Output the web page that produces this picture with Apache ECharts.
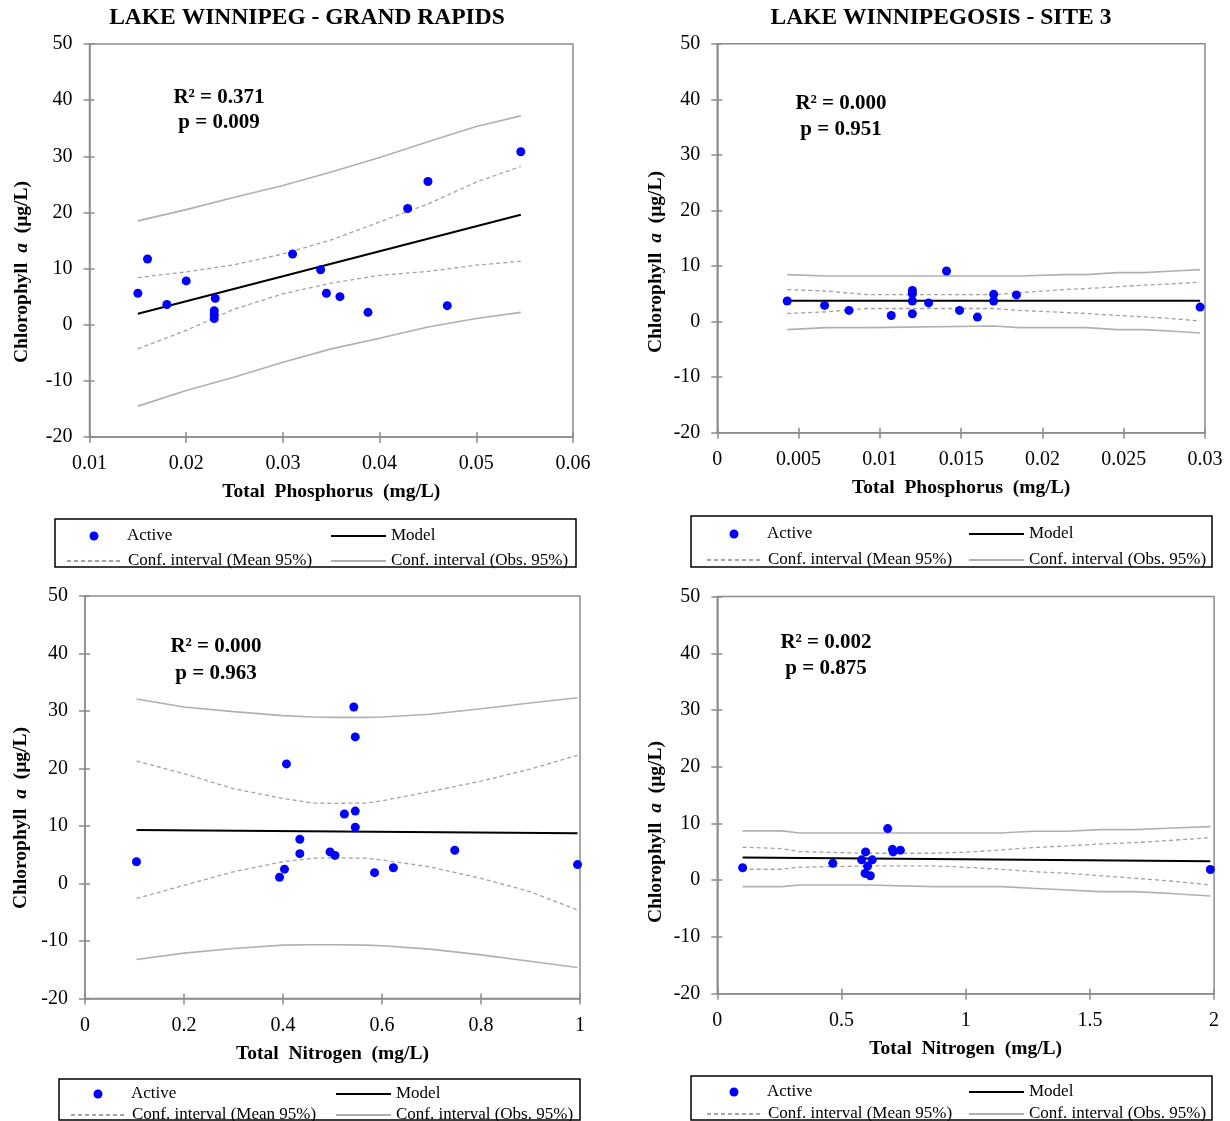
<!DOCTYPE html>
<html>
<head>
<meta charset="utf-8">
<title>Chlorophyll a vs nutrients</title>
<script src="https://cdn.jsdelivr.net/npm/echarts@6/dist/echarts.min.js"></script>
<style>
  html, body { margin: 0; padding: 0; background: #fff; }
  #chart { width: 1230px; height: 1121px; }
</style>
</head>
<body>
<div id="chart"></div>
<script>
// ---------- Lake Winnipeg - Grand Rapids : Chl a vs total phosphorus ----------
const grTpX   = [0.0150, 0.0160, 0.0180, 0.0200, 0.0230, 0.0229, 0.0229, 0.0229, 0.0310, 0.0339, 0.0345, 0.0359, 0.0388, 0.0429, 0.0450, 0.0470, 0.0546];
const grTpChl = [5.6, 11.7, 3.6, 7.8, 4.7, 2.5, 1.8, 1.1, 12.6, 9.8, 5.6, 5.0, 2.2, 20.7, 25.5, 3.4, 30.8];
const grTpModelX = [0.0150, 0.0546];
const grTpModelY = [1.95, 19.6];
const grTpBandX  = [0.015, 0.020, 0.025, 0.030, 0.035, 0.040, 0.045, 0.050, 0.0546];
const grTpMeanUp = [8.4, 9.4, 10.7, 12.6, 15.1, 18.3, 21.5, 25.4, 28.2];
const grTpMeanLo = [-4.3, -1.0, 2.8, 5.5, 7.4, 8.8, 9.5, 10.6, 11.3];
const grTpObsUp  = [18.5, 20.5, 22.7, 24.8, 27.2, 29.8, 32.6, 35.3, 37.2];
const grTpObsLo  = [-14.5, -11.7, -9.3, -6.7, -4.3, -2.4, -0.4, 1.1, 2.2];

// ---------- Lake Winnipegosis - Site 3 : Chl a vs total phosphorus ----------
const wsTpX   = [0.0043, 0.0066, 0.0081, 0.0107, 0.0120, 0.0120, 0.0120, 0.0120, 0.0130, 0.0141, 0.0149, 0.0160, 0.0170, 0.0170, 0.0184, 0.0297];
const wsTpChl = [3.7, 2.9, 2.0, 1.1, 5.6, 5.0, 3.7, 1.4, 3.35, 9.1, 2.0, 0.8, 4.9, 3.7, 4.8, 2.6];
const wsTpModelX = [0.0043, 0.0297];
const wsTpModelY = [3.75, 3.75];
const wsTpBandX  = [0.0043, 0.0067, 0.0092, 0.0170, 0.0186, 0.0213, 0.0227, 0.0246, 0.0262, 0.0281, 0.0297];
const wsTpMeanUp = [5.75, 5.5, 4.85, 4.85, 5.2, 5.75, 5.95, 6.25, 6.55, 6.8, 7.1];
const wsTpMeanLo = [1.45, 1.75, 2.35, 2.35, 2.0, 1.65, 1.45, 1.1, 0.85, 0.5, 0.1];
const wsTpObsUp  = [8.45, 8.2, 8.2, 8.2, 8.2, 8.45, 8.45, 8.8, 8.8, 9.1, 9.35];
const wsTpObsLo  = [-1.45, -1.1, -1.1, -0.8, -1.1, -1.1, -1.1, -1.45, -1.45, -1.75, -2.05];

// ---------- Lake Winnipeg - Grand Rapids : Chl a vs total nitrogen ----------
const grTnX   = [0.104, 0.393, 0.403, 0.407, 0.434, 0.434, 0.495, 0.505, 0.524, 0.543, 0.546, 0.546, 0.546, 0.585, 0.623, 0.747, 0.995];
const grTnChl = [3.8, 1.1, 2.5, 20.8, 7.7, 5.2, 5.5, 4.9, 12.1, 30.7, 25.5, 12.6, 9.8, 1.9, 2.75, 5.8, 3.3];
const grTnModelX = [0.104, 0.995];
const grTnModelY = [9.3, 8.75];
const grTnBandX  = [0.104, 0.200, 0.300, 0.400, 0.461, 0.502, 0.569, 0.600, 0.697, 0.800, 0.899, 0.995];
const grTnMeanUp = [21.3, 19.1, 16.5, 14.8, 14.0, 13.95, 14.0, 14.4, 16.0, 17.8, 19.9, 22.3];
const grTnMeanLo = [-2.6, -0.3, 2.05, 3.8, 4.4, 4.5, 4.4, 4.1, 2.9, 0.9, -1.4, -4.6];
const grTnObsUp  = [32.1, 30.7, 29.9, 29.2, 28.95, 28.9, 28.9, 28.95, 29.45, 30.4, 31.4, 32.3];
const grTnObsLo  = [-13.2, -12.1, -11.3, -10.7, -10.65, -10.65, -10.7, -10.8, -11.4, -12.4, -13.5, -14.6];

// ---------- Lake Winnipegosis - Site 3 : Chl a vs total nitrogen ----------
const wsTnX   = [0.102, 0.465, 0.581, 0.597, 0.605, 0.595, 0.616, 0.624, 0.686, 0.705, 0.708, 0.737, 1.985];
const wsTnChl = [2.2, 3.0, 3.6, 5.0, 2.5, 1.2, 0.8, 3.6, 9.1, 5.45, 5.0, 5.3, 1.9];
const wsTnModelX = [0.102, 1.985];
const wsTnModelY = [4.0, 3.35];
const wsTnBandX  = [0.102, 0.26, 0.33, 0.60, 0.87, 1.00, 1.14, 1.27, 1.41, 1.54, 1.68, 1.81, 1.985];
const wsTnMeanUp = [5.82, 5.58, 5.05, 4.76, 4.76, 4.94, 5.34, 5.75, 6.05, 6.4, 6.63, 6.98, 7.51];
const wsTnMeanLo = [1.94, 1.94, 2.29, 2.52, 2.52, 2.29, 1.94, 1.52, 1.23, 0.81, 0.35, -0.07, -0.83];
const wsTnObsUp  = [8.7, 8.7, 8.34, 8.34, 8.34, 8.34, 8.34, 8.63, 8.63, 8.93, 8.93, 9.17, 9.46];
const wsTnObsLo  = [-1.12, -1.12, -0.83, -0.83, -1.12, -1.12, -1.12, -1.41, -1.71, -2.0, -2.0, -2.3, -2.77];

// ---------- tick labels and texts ----------
const chlTicks    = ['-20', '-10', '0', '10', '20', '30', '40', '50'];
const grTpTicks   = ['0.01', '0.02', '0.03', '0.04', '0.05', '0.06'];
const wsTpTicks   = ['0', '0.005', '0.01', '0.015', '0.02', '0.025', '0.03'];
const grTnTicks   = ['0', '0.2', '0.4', '0.6', '0.8', '1'];
const wsTnTicks   = ['0', '0.5', '1', '1.5', '2'];
const siteTitles  = ['LAKE WINNIPEG - GRAND RAPIDS', 'LAKE WINNIPEGOSIS - SITE 3'];
const statTexts   = [['R² = 0.371', 'p = 0.009'], ['R² = 0.000', 'p = 0.951'],
                     ['R² = 0.000', 'p = 0.963'], ['R² = 0.002', 'p = 0.875']];
const NAME_PTS  = 'Active';
const NAME_MOD  = 'Model';
const NAME_MEAN = 'Conf. interval (Mean 95%)';
const NAME_OBS  = 'Conf. interval (Obs. 95%)';

// ---------- styling / layout ----------
const FONT = '"Liberation Serif", "Times New Roman", serif';
const AXIS_GRAY = '#8c8c8c';

const panels = [
  { grid: { left: 89.5, top: 44, width: 483.5, height: 393 },
    x: { min: 0.01, max: 0.06, step: 0.01, labels: grTpTicks }, xName: 'Total  Phosphorus  (mg/L)',
    pts: [grTpX, grTpChl], model: [grTpModelX, grTpModelY],
    band: [grTpBandX, grTpMeanUp, grTpMeanLo, grTpObsUp, grTpObsLo],
    stats: statTexts[0], statPos: [219, 98, 123], yTitle: [22, 272],
    legend: { box: [55, 519, 521, 48], iconL: 66, iconR: 330, rows: [532, 557] } },
  { grid: { left: 717.3, top: 43.7, width: 487.7, height: 389 },
    x: { min: 0, max: 0.03, step: 0.005, labels: wsTpTicks }, xName: 'Total  Phosphorus  (mg/L)',
    pts: [wsTpX, wsTpChl], model: [wsTpModelX, wsTpModelY],
    band: [wsTpBandX, wsTpMeanUp, wsTpMeanLo, wsTpObsUp, wsTpObsLo],
    stats: statTexts[1], statPos: [841, 104, 130], yTitle: [656, 262],
    legend: { box: [691, 516, 521, 51], iconL: 706, iconR: 968, rows: [530, 556] } },
  { grid: { left: 85, top: 596, width: 495, height: 402.6 },
    x: { min: 0, max: 1, step: 0.2, labels: grTnTicks }, xName: 'Total  Nitrogen  (mg/L)',
    pts: [grTnX, grTnChl], model: [grTnModelX, grTnModelY],
    band: [grTnBandX, grTnMeanUp, grTnMeanLo, grTnObsUp, grTnObsLo],
    stats: statTexts[2], statPos: [216, 647, 674], yTitle: [21, 818],
    legend: { box: [59, 1079, 521, 41], iconL: 70, iconR: 335, rows: [1090, 1111] } },
  { grid: { left: 717.3, top: 596.6, width: 496.8, height: 397.1 },
    x: { min: 0, max: 2, step: 0.5, labels: wsTnTicks }, xName: 'Total  Nitrogen  (mg/L)',
    pts: [wsTnX, wsTnChl], model: [wsTnModelX, wsTnModelY],
    band: [wsTnBandX, wsTnMeanUp, wsTnMeanLo, wsTnObsUp, wsTnObsLo],
    stats: statTexts[3], statPos: [826, 643, 669], yTitle: [656, 832],
    legend: { box: [691, 1076, 521, 44], iconL: 706, iconR: 968, rows: [1088, 1110] } }
];

const pairs = (xs, ys) => xs.map((x, i) => [x, ys[i]]);
const labelFrom = (labels, min, step) => v => {
  const k = Math.round((v - min) / step);
  return labels[k] !== undefined ? labels[k] : '';
};

const grids = [], xAxes = [], yAxes = [], series = [], legends = [], graphics = [];

const tickLine = { color: AXIS_GRAY, width: 1.5 };
const DOT = 9;

panels.forEach((p, i) => {
  grids.push(Object.assign({ show: true, borderColor: AXIS_GRAY, borderWidth: 1.5,
    backgroundColor: 'transparent', containLabel: false }, p.grid));

  const xCommon = { gridIndex: i, type: 'value', min: p.x.min, max: p.x.max, interval: p.x.step,
    position: 'bottom', splitLine: { show: false } };
  // main x axis: line, outer ticks, labels, title
  xAxes.push(Object.assign({}, xCommon, {
    axisLine: { show: true, onZero: false, lineStyle: tickLine },
    axisTick: { show: true, inside: false, length: 6, lineStyle: tickLine },
    axisLabel: { margin: 17, color: '#000', fontFamily: FONT, fontSize: 20,
                 formatter: labelFrom(p.x.labels, p.x.min, p.x.step) },
    name: p.xName, nameLocation: 'middle', nameGap: 45,
    nameTextStyle: { fontFamily: FONT, fontSize: 19.5, fontWeight: 'bold', color: '#000' }
  }));
  // companion x axis: inner half of the crossing ticks
  xAxes.push(Object.assign({}, xCommon, {
    axisLine: { show: false, onZero: false },
    axisTick: { show: true, inside: true, length: 5, lineStyle: tickLine },
    axisLabel: { show: false }
  }));

  const yCommon = { gridIndex: i, type: 'value', min: -20, max: 50, interval: 10,
    position: 'left', splitLine: { show: false } };
  yAxes.push(Object.assign({}, yCommon, {
    axisLine: { show: true, onZero: false, lineStyle: tickLine },
    axisTick: { show: true, inside: false, length: 6, lineStyle: tickLine },
    axisLabel: { margin: 17, color: '#000', fontFamily: FONT, fontSize: 20,
                 formatter: labelFrom(chlTicks, -20, 10) }
  }));
  yAxes.push(Object.assign({}, yCommon, {
    axisLine: { show: false, onZero: false },
    axisTick: { show: true, inside: true, length: 5, lineStyle: tickLine },
    axisLabel: { show: false }
  }));

  const ax = { xAxisIndex: 2 * i, yAxisIndex: 2 * i };
  const [bx, meanUp, meanLo, obsUp, obsLo] = p.band;
  const meanStyle = { color: '#a3a3a3', width: 1.3, type: [4, 3] };
  const obsStyle  = { color: '#b0b0b0', width: 1.6, type: 'solid' };
  const lineBase = Object.assign({ type: 'line', symbol: 'none', silent: true, animation: false, z: 2 }, ax);

  series.push(Object.assign({}, lineBase, { name: NAME_OBS,  data: pairs(bx, obsUp),  lineStyle: obsStyle }));
  series.push(Object.assign({}, lineBase, { name: NAME_OBS,  data: pairs(bx, obsLo),  lineStyle: obsStyle }));
  series.push(Object.assign({}, lineBase, { name: NAME_MEAN, data: pairs(bx, meanUp), lineStyle: meanStyle }));
  series.push(Object.assign({}, lineBase, { name: NAME_MEAN, data: pairs(bx, meanLo), lineStyle: meanStyle }));
  series.push(Object.assign({}, lineBase, { name: NAME_MOD, z: 3,
    data: pairs(p.model[0], p.model[1]), lineStyle: { color: '#000', width: 2 } }));
  series.push(Object.assign({ type: 'scatter', name: NAME_PTS, symbol: 'circle', symbolSize: DOT,
    itemStyle: { color: '#0000ff', opacity: 1 }, animation: false, z: 5,
    data: pairs(p.pts[0], p.pts[1]) }, ax));

  // legend: one entry per cell of the 2x2 layout
  const L = p.legend;
  const textStyle = { fontFamily: FONT, fontSize: 17, color: '#000' };
  // marker dot centred in its 56px slot, text starting after the slot
  legends.push({
    orient: 'horizontal', left: L.iconL + 28 - DOT / 2, top: L.rows[0] - DOT / 2, padding: 0,
    itemWidth: DOT, itemHeight: DOT, itemGap: 0, selectedMode: false,
    data: [{ name: NAME_PTS, icon: 'circle' }],
    itemStyle: { opacity: 1 },
    textStyle: Object.assign({ padding: [0, 0, 0, 56 - 28 - DOT / 2] }, textStyle)
  });
  [
    { name: NAME_MOD,  left: L.iconR, row: L.rows[0], w: 55 },
    { name: NAME_MEAN, left: L.iconL, row: L.rows[1], w: 56 },
    { name: NAME_OBS,  left: L.iconR, row: L.rows[1], w: 55 }
  ].forEach(c => {
    legends.push({
      orient: 'horizontal', left: c.left, top: c.row - 4.5, padding: 0,
      itemWidth: c.w, itemHeight: 9, itemGap: 0, selectedMode: false,
      data: [{ name: c.name }],
      itemStyle: { opacity: 0 },
      textStyle: textStyle
    });
  });
  graphics.push({ type: 'rect', z: 0, silent: true,
    shape: { x: L.box[0], y: L.box[1], width: L.box[2], height: L.box[3] },
    style: { fill: 'none', stroke: '#000', lineWidth: 1.5 } });

  // regression statistics
  p.stats.forEach((t, k) => {
    graphics.push({ type: 'text', silent: true, x: p.statPos[0], y: p.statPos[k + 1],
      style: { text: t, fontFamily: FONT, fontSize: 21, fontWeight: 'bold', fill: '#000',
               align: 'center', verticalAlign: 'middle', textAlign: 'center', textVerticalAlign: 'middle' } });
  });

  // y axis title with italic "a"
  graphics.push({ type: 'text', silent: true, x: p.yTitle[0], y: p.yTitle[1], rotation: Math.PI / 2,
    style: { text: '{b|Chlorophyll  }{i|a}{b|  (µg/L)}', fill: '#000',
             align: 'center', verticalAlign: 'middle', textAlign: 'center', textVerticalAlign: 'middle',
             rich: {
               b: { fontFamily: FONT, fontSize: 19.5, fontWeight: 'bold', fill: '#000' },
               i: { fontFamily: FONT, fontSize: 19.5, fontWeight: 'bold', fontStyle: 'italic', fill: '#000' }
             } } });
});

// site titles above each column
[[307, 18], [941, 18]].forEach((pos, k) => {
  graphics.push({ type: 'text', silent: true, x: pos[0], y: pos[1],
    style: { text: siteTitles[k], fontFamily: FONT, fontSize: 23.5, fontWeight: 'bold', fill: '#000',
             align: 'center', verticalAlign: 'middle', textAlign: 'center', textVerticalAlign: 'middle' } });
});

const chart = echarts.init(document.getElementById('chart'), null, { renderer: 'canvas' });
chart.setOption({
  backgroundColor: '#fff',
  animation: false,
  grid: grids,
  xAxis: xAxes,
  yAxis: yAxes,
  legend: legends,
  series: series,
  graphic: { elements: graphics }
});
</script>
</body>
</html>
